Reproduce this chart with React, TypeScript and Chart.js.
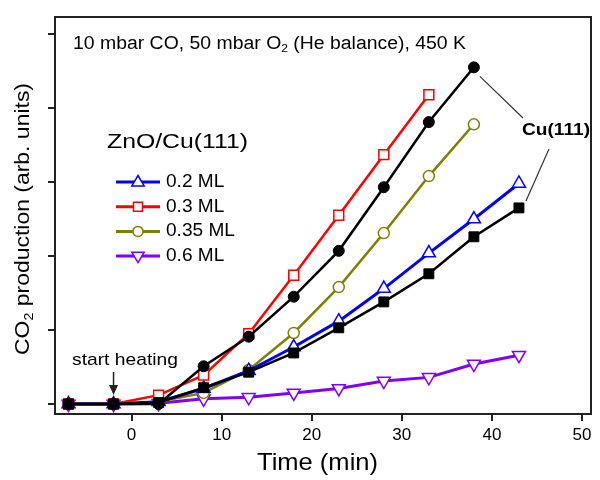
import React, { useEffect, useRef } from 'react';
import { Chart, registerables } from 'chart.js';
Chart.register(...registerables);

const times = [-7, -2, 3, 8, 13, 18, 23, 28, 33, 38, 43];
const ml02 = [0, 0, 0.03, 0.21, 0.45, 0.77, 1.12, 1.56, 2.04, 2.5, 2.98];
const ml03 = [0, 0, 0.12, 0.39, 0.95, 1.74, 2.55, 3.37, 4.18];
const ml035 = [0, 0, 0.03, 0.15, 0.46, 0.96, 1.58, 2.31, 3.08, 3.78];
const ml06 = [0, 0, 0.01, 0.07, 0.09, 0.15, 0.21, 0.31, 0.36, 0.54, 0.66];
const cuCircles = [0, 0, 0, 0.51, 0.91, 1.45, 2.07, 2.93, 3.81, 4.55];
const cuSquares = [0, 0, 0.02, 0.22, 0.43, 0.69, 1.03, 1.38, 1.76, 2.26, 2.65];

const xTicks = [0, 10, 20, 30, 40, 50];
const yTicks = [0, 1, 2, 3, 4, 5];
const legendLabels = ['0.2 ML', '0.3 ML', '0.35 ML', '0.6 ML'];
const legendColors = ['#0000ff', '#ff0000', '#808000', '#8000ff'];
const legendShapes = ['tri', 'square', 'circle', 'itri'];

const FONT = '"Liberation Sans", Arial, Helvetica, sans-serif';
const AXIS = '#222';

type Seg = { t: string; sub?: boolean };

function drawRich(
  ctx: CanvasRenderingContext2D,
  segs: Seg[],
  cx: number,
  cy: number,
  size: number,
  weight: string,
  align: 'left' | 'center',
  targetW: number | null,
  rotate = 0,
  fixedScale = 1
) {
  const subSize = size * 0.62;
  let w = 0;
  const widths = segs.map((s) => {
    ctx.font = `${weight} ${s.sub ? subSize : size}px ${FONT}`;
    const m = ctx.measureText(s.t).width;
    w += m;
    return m;
  });
  const sx = targetW ? targetW / w : fixedScale;
  ctx.save();
  ctx.translate(cx, cy);
  if (rotate) ctx.rotate(rotate);
  ctx.scale(sx, 1);
  let x = align === 'center' ? -w / 2 : 0;
  ctx.textBaseline = 'middle';
  ctx.textAlign = 'left';
  ctx.fillStyle = '#000';
  segs.forEach((s, i) => {
    ctx.font = `${weight} ${s.sub ? subSize : size}px ${FONT}`;
    ctx.fillText(s.t, x, s.sub ? size * 0.3 : 0);
    x += widths[i];
  });
  ctx.restore();
}

function drawMarker(ctx: CanvasRenderingContext2D, shape: string, x: number, y: number, color: string) {
  ctx.save();
  ctx.strokeStyle = color;
  ctx.fillStyle = '#fff';
  ctx.lineWidth = 1.5;
  ctx.beginPath();
  const r = 6.5;
  if (shape === 'tri') {
    ctx.moveTo(x, y - r);
    ctx.lineTo(x + r * 0.95, y + r * 0.6);
    ctx.lineTo(x - r * 0.95, y + r * 0.6);
    ctx.closePath();
  } else if (shape === 'itri') {
    ctx.moveTo(x, y + r);
    ctx.lineTo(x + r * 0.95, y - r * 0.6);
    ctx.lineTo(x - r * 0.95, y - r * 0.6);
    ctx.closePath();
  } else if (shape === 'square') {
    ctx.rect(x - 4.5, y - 4.5, 9, 9);
  } else {
    ctx.arc(x, y, 5, 0, Math.PI * 2);
  }
  ctx.fill();
  ctx.stroke();
  ctx.restore();
}

const decorPlugin = {
  id: 'decor',
  afterDraw(chart: any) {
    const ctx: CanvasRenderingContext2D = chart.ctx;
    const a = chart.chartArea;
    const xs = chart.scales.x;
    const ys = chart.scales.y;
    ctx.save();
    // frame (top + right)
    ctx.strokeStyle = AXIS;
    ctx.lineWidth = 2;
    ctx.beginPath();
    ctx.moveTo(a.left, a.top);
    ctx.lineTo(a.right, a.top);
    ctx.lineTo(a.right, a.bottom);
    ctx.stroke();

    // top annotation
    drawRich(
      ctx,
      [{ t: '10 mbar CO, 50 mbar O' }, { t: '2', sub: true }, { t: ' (He balance), 450 K' }],
      73,
      44,
      18,
      'normal',
      'left',
      393
    );

    // ZnO/Cu(111)
    drawRich(ctx, [{ t: 'ZnO/Cu(111)' }], 107, 142, 21, 'normal', 'left', 141);

    // legend
    legendLabels.forEach((lab, i) => {
      const y = 182 + i * 24.7;
      ctx.strokeStyle = legendColors[i];
      ctx.lineWidth = 3;
      ctx.beginPath();
      ctx.moveTo(116, y);
      ctx.lineTo(160, y);
      ctx.stroke();
      drawMarker(ctx, legendShapes[i], 138, y, legendColors[i]);
      drawRich(ctx, [{ t: lab }], 166, y, 17.5, 'normal', 'left', null, 0, 1.09);
    });

    // Cu(111) label + leader lines
    drawRich(ctx, [{ t: 'Cu(111)' }], 522, 130, 17, 'bold', 'left', 68);
    ctx.strokeStyle = '#333';
    ctx.lineWidth = 1.2;
    ctx.beginPath();
    const p1x = xs.getPixelForValue(38);
    const p1y = ys.getPixelForValue(cuCircles[9]);
    ctx.moveTo(p1x + 6, p1y + 9);
    ctx.lineTo(523, 118);
    const p2x = xs.getPixelForValue(43);
    const p2y = ys.getPixelForValue(cuSquares[10]);
    ctx.moveTo(p2x + 7, p2y - 7);
    ctx.lineTo(549, 149);
    ctx.stroke();

    // start heating
    drawRich(ctx, [{ t: 'start heating' }], 72, 360, 17, 'normal', 'left', 106);
    const ax = xs.getPixelForValue(-2);
    ctx.strokeStyle = '#222';
    ctx.fillStyle = '#222';
    ctx.lineWidth = 1.5;
    ctx.beginPath();
    ctx.moveTo(ax, 372);
    ctx.lineTo(ax, 388);
    ctx.stroke();
    ctx.beginPath();
    ctx.moveTo(ax - 4.5, 385);
    ctx.lineTo(ax + 4.5, 385);
    ctx.lineTo(ax, 395);
    ctx.closePath();
    ctx.fill();

    // axis titles
    drawRich(ctx, [{ t: 'Time (min)' }], 317.5, 463, 24, 'normal', 'center', 121);
    drawRich(
      ctx,
      [{ t: 'CO' }, { t: '2', sub: true }, { t: ' production (arb. units)' }],
      23,
      219,
      21,
      'normal',
      'center',
      272,
      -Math.PI / 2
    );
    ctx.restore();
  },
};

function pts(vals: number[]) {
  return vals.map((v, i) => ({ x: times[i], y: v }));
}

export default function App() {
  const ref = useRef<HTMLCanvasElement | null>(null);
  useEffect(() => {
    if (!ref.current) return;
    const gridCfg = {
      drawOnChartArea: false,
      drawTicks: true,
      tickLength: 7,
      color: AXIS,
      lineWidth: 2,
    };
    const chart = new Chart(ref.current, {
      type: 'line',
      data: {
        datasets: [
          {
            label: 'Cu(111) circles',
            data: pts(cuCircles),
            borderColor: '#000',
            backgroundColor: '#000',
            borderWidth: 2.5,
            pointStyle: 'circle',
            pointRadius: 5.5,
            pointBorderWidth: 1,
            pointBackgroundColor: '#000',
            pointBorderColor: '#000',
            order: 0,
          },
          {
            label: 'Cu(111) squares',
            data: pts(cuSquares),
            borderColor: '#000',
            backgroundColor: '#000',
            borderWidth: 2.5,
            pointStyle: 'rect',
            pointRadius: 7,
            pointBorderWidth: 1,
            pointBackgroundColor: '#000',
            pointBorderColor: '#000',
            order: 1,
          },
          {
            label: '0.3 ML',
            data: pts(ml03),
            borderColor: '#ff0000',
            borderWidth: 2.5,
            pointStyle: 'rect',
            pointRadius: 7,
            pointBorderWidth: 1.5,
            pointBackgroundColor: '#fff',
            pointBorderColor: '#ff0000',
            order: 2,
          },
          {
            label: '0.2 ML',
            data: pts(ml02),
            borderColor: '#0000ff',
            borderWidth: 3,
            pointStyle: 'triangle',
            pointRadius: 7.5,
            pointBorderWidth: 1.5,
            pointBackgroundColor: '#fff',
            pointBorderColor: '#0000ff',
            order: 3,
          },
          {
            label: '0.35 ML',
            data: pts(ml035),
            borderColor: '#808000',
            borderWidth: 2.5,
            pointStyle: 'circle',
            pointRadius: 5.5,
            pointBorderWidth: 1.5,
            pointBackgroundColor: '#fff',
            pointBorderColor: '#808000',
            order: 4,
          },
          {
            label: '0.6 ML',
            data: pts(ml06),
            borderColor: '#8000ff',
            borderWidth: 3,
            pointStyle: 'triangle',
            pointRotation: 180,
            pointRadius: 7.5,
            pointBorderWidth: 1.5,
            pointBackgroundColor: '#fff',
            pointBorderColor: '#8000ff',
            order: 5,
          },
        ],
      },
      options: {
        responsive: false,
        animation: false,
        events: [],
        layout: { padding: { top: 17, right: 5, left: 0, bottom: 0 } },
        plugins: { legend: { display: false }, tooltip: { enabled: false } },
        elements: { line: { tension: 0 } },
        scales: {
          x: {
            type: 'linear',
            min: -8.5,
            max: 51,
            afterBuildTicks: (s: any) => {
              s.ticks = xTicks.map((v) => ({ value: v }));
            },
            afterFit: (s: any) => {
              s.height = 66;
              s.paddingLeft = 0;
              s.paddingRight = 0;
            },
            grid: gridCfg,
            border: { display: true, color: AXIS, width: 2 },
            ticks: {
              font: { family: FONT, size: 17 },
              color: '#000',
              padding: 4,
              maxRotation: 0,
            },
          },
          y: {
            type: 'linear',
            min: -0.135,
            max: 5.23,
            afterBuildTicks: (s: any) => {
              s.ticks = yTicks.map((v) => ({ value: v }));
            },
            afterFit: (s: any) => {
              s.width = 55;
              s.paddingTop = 0;
              s.paddingBottom = 0;
            },
            grid: gridCfg,
            border: { display: true, color: AXIS, width: 2 },
            ticks: { display: false },
          },
        },
      },
      plugins: [decorPlugin],
    } as any);
    return () => chart.destroy();
  }, []);
  return (
    <div style={{ position: 'absolute', left: 0, top: 0, width: 600, height: 480, background: '#fff' }}>
      <canvas ref={ref} width={600} height={480} style={{ display: 'block' }} />
    </div>
  );
}
